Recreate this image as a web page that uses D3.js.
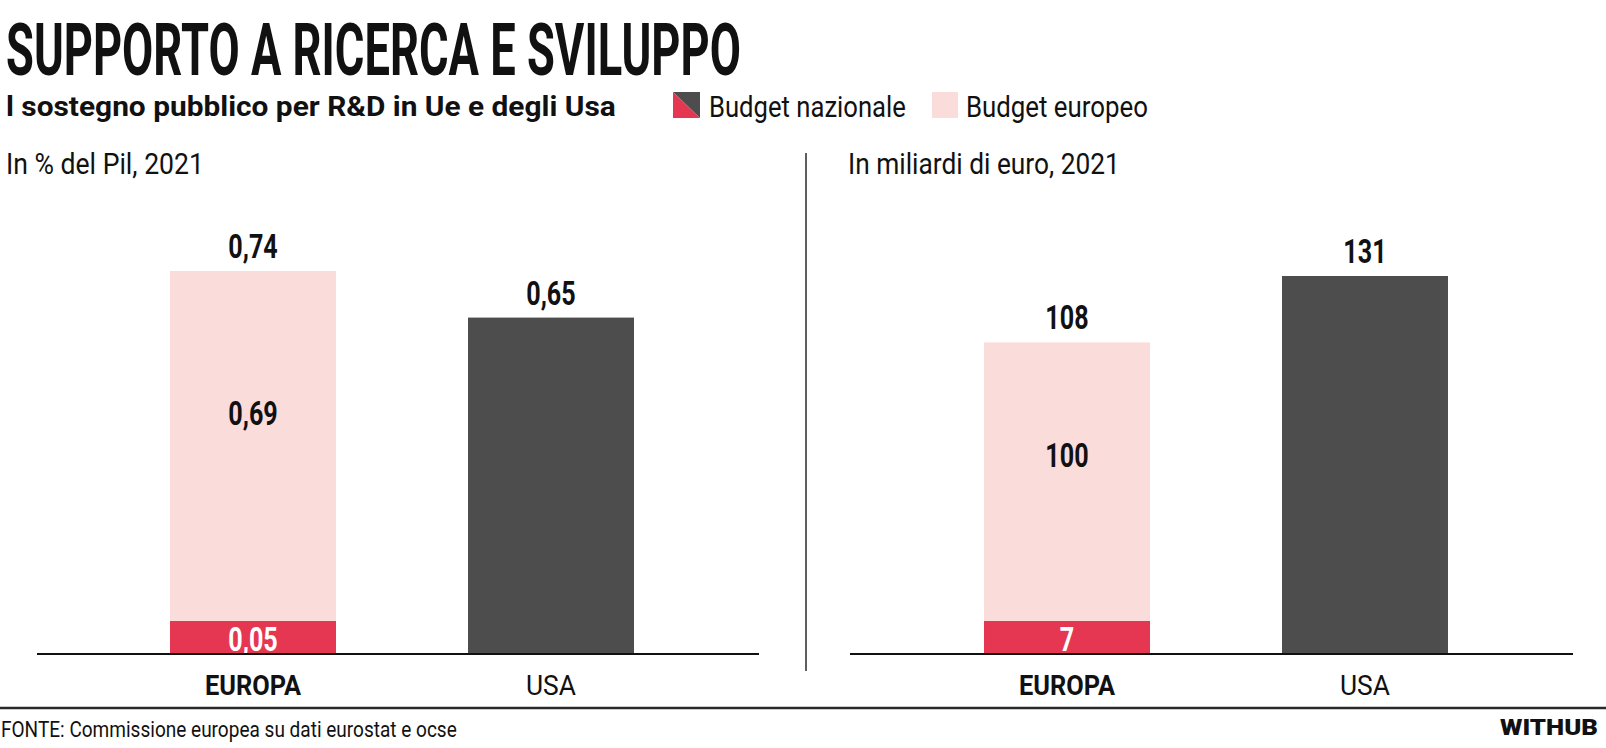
<!DOCTYPE html>
<html>
<head>
<meta charset="utf-8">
<script src="https://cdn.jsdelivr.net/npm/d3@7"></script>
<style>
  html, body { margin: 0; padding: 0; background: #fff; }
  svg { display: block; }
  text { font-family: Roboto, "Noto Sans", sans-serif; }
</style>
</head>
<body>
<svg id="chart" width="1606" height="748"></svg>
<script>
// ---------------- DATA ----------------
const categories = ["EUROPA", "USA"];
// Panel 1: in % del Pil, 2021
const pctNazionale = [0.05, 0.65];
const pctEuropeo   = [0.69, 0];
const pctTotale    = [0.74, 0.65];
// Panel 2: in miliardi di euro, 2021
const eurNazionale = [7, 131];
const eurEuropeo   = [100, 0];
const eurTotale    = [108, 131];

const legendLabels = ["Budget nazionale", "Budget europeo"];
const titleText    = "SUPPORTO A RICERCA E SVILUPPO";
const subtitleText = "l sostegno pubblico per R&D in Ue e degli Usa";
const panelTitles  = ["In % del Pil, 2021", "In miliardi di euro, 2021"];
const sourceText   = "FONTE: Commissione europea su dati eurostat e ocse";
const brandText    = "WITHUB";

// ---------------- STYLE / LAYOUT ----------------
const C = { red: "#E63752", pink: "#FADCDB", dark: "#4E4D4E", ink: "#111111", rule: "#2a2a2a" };
const baseY = 654;
const minSegment = 33;          // room kept for the label inside the small national segment
const svg = d3.select("#chart");

const it = d3.formatLocale({ decimal: ",", thousands: ".", grouping: [3], currency: ["€", ""] });
const fmtPct = it.format(".2f");
const fmtEur = it.format("d");

// horizontally condense text with a transform (keeps real bounding boxes)
function condense(sel, target, isFactor) {
  sel.each(function (d) {
    const node = this;
    const w = node.getComputedTextLength();
    const t = typeof target === "function" ? target(d) : target;
    const f = isFactor ? t : t / w;
    const x = +node.getAttribute("x") || 0;
    const y = +node.getAttribute("y") || 0;
    const keepY = node.hasAttribute("dy");
    d3.select(node).attr("x", 0);
    if (!keepY) d3.select(node).attr("y", 0);
    d3.select(node).attr("transform", `translate(${x},${keepY ? 0 : y}) scale(${f},1)`);
  });
  return sel;
}

// ---------------- HEADER ----------------
condense(svg.append("text").attr("x", 6).attr("y", 75)
  .attr("font-size", 73).attr("font-weight", 700).attr("fill", C.ink).text(titleText), 735);

condense(svg.append("text").attr("x", 6).attr("y", 116)
  .attr("font-size", 28).attr("font-weight", 700).attr("fill", C.ink).text(subtitleText), 610);

// legend
const lg = svg.append("g");
lg.append("path").attr("d", "M673,92 L700,92 L700,118 Z").attr("fill", C.dark);
lg.append("path").attr("d", "M673,92 L673,118 L700,118 Z").attr("fill", C.red);
condense(lg.append("text").attr("x", 709).attr("y", 117).attr("font-size", 30).attr("font-weight", 400)
  .attr("fill", C.ink).text(legendLabels[0]), 197);
lg.append("rect").attr("x", 932).attr("y", 92).attr("width", 26).attr("height", 26).attr("fill", C.pink);
condense(lg.append("text").attr("x", 966).attr("y", 117).attr("font-size", 30).attr("font-weight", 400)
  .attr("fill", C.ink).text(legendLabels[1]), 182);

// divider
svg.append("line").attr("x1", 806).attr("x2", 806).attr("y1", 153).attr("y2", 671)
  .attr("stroke", C.rule).attr("stroke-width", 1.5);

// ---------------- PANELS ----------------
const panels = [
  { title: panelTitles[0], tx: 6, tw: 198, naz: pctNazionale, eu: pctEuropeo, tot: pctTotale, fmt: fmtPct,
    x: d3.scaleBand().domain(categories).range([38, 766]).paddingInner(0.443).paddingOuter(0.443),
    y: d3.scaleLinear().domain([0, 0.74]).range([baseY, 271]), line: [37, 759] },
  { title: panelTitles[1], tx: 848, tw: 272, naz: eurNazionale, eu: eurEuropeo, tot: eurTotale, fmt: fmtEur,
    x: d3.scaleBand().domain(categories).range([852, 1580]).paddingInner(0.443).paddingOuter(0.443),
    y: d3.scaleLinear().domain([0, 131]).range([baseY, 276]), line: [850, 1573] }
];

panels.forEach(p => {
  const g = svg.append("g");
  condense(g.append("text").attr("x", p.tx).attr("y", 174).attr("font-size", 29).attr("font-weight", 400)
    .attr("fill", C.ink).text(p.title), p.tw);

  const rows = categories.map((c, i) => ({ c, i, naz: p.naz[i], eu: p.eu[i], tot: p.tot[i] }));
  // top of the national segment (stacked with a minimum height when it carries a label)
  const nazTop = d => d.eu > 0 ? Math.min(p.y(d.naz), baseY - minSegment) : p.y(d.naz);
  const cx = d => p.x(d.c) + p.x.bandwidth() / 2;

  // european share (pink) up to the total
  g.selectAll("rect.tot").data(rows.filter(d => d.eu > 0)).join("rect").attr("class", "tot")
    .attr("x", d => p.x(d.c)).attr("width", p.x.bandwidth())
    .attr("y", d => p.y(d.tot)).attr("height", d => nazTop(d) - p.y(d.tot))
    .attr("fill", C.pink);

  // national bar
  g.selectAll("rect.naz").data(rows).join("rect").attr("class", "naz")
    .attr("x", d => p.x(d.c)).attr("width", p.x.bandwidth())
    .attr("y", d => nazTop(d)).attr("height", d => baseY - nazTop(d))
    .attr("fill", d => d.eu > 0 ? C.red : C.dark);

  // total labels
  condense(g.selectAll("text.tl").data(rows).join("text").attr("class", "tl")
    .attr("x", cx).attr("y", d => p.y(d.tot) - 13)
    .attr("text-anchor", "middle").attr("font-size", 34).attr("font-weight", 700).attr("fill", C.ink)
    .text(d => p.fmt(d.tot)), 0.74, true);

  // european share labels
  condense(g.selectAll("text.el").data(rows.filter(d => d.eu > 0)).join("text").attr("class", "el")
    .attr("x", cx)
    .attr("y", d => { const t = p.y(d.tot), b = nazTop(d); return t + 0.405 * (b - t) + 12; })
    .attr("text-anchor", "middle").attr("font-size", 34).attr("font-weight", 700).attr("fill", C.ink)
    .text(d => p.fmt(d.eu)), 0.74, true);

  // national labels inside the red segment
  condense(g.selectAll("text.nl").data(rows.filter(d => d.eu > 0)).join("text").attr("class", "nl")
    .attr("x", cx).attr("y", baseY - 3)
    .attr("text-anchor", "middle").attr("font-size", 34).attr("font-weight", 700).attr("fill", "#fff")
    .text(d => p.fmt(d.naz)), 0.74, true);

  // baseline
  g.append("line").attr("x1", p.line[0]).attr("x2", p.line[1]).attr("y1", baseY).attr("y2", baseY)
    .attr("stroke", C.ink).attr("stroke-width", 2.2);

  // category axis
  const ax = g.append("g").attr("transform", `translate(0,${baseY})`)
    .call(d3.axisBottom(p.x).tickSize(0).tickPadding(21));
  ax.select(".domain").remove();
  const tt = ax.selectAll("text").attr("font-family", "Roboto, sans-serif").attr("font-size", 28)
    .attr("fill", C.ink)
    .attr("font-weight", d => d === "EUROPA" ? 700 : 400);
  condense(tt, d => d === "EUROPA" ? 96 : 50);
});

// ---------------- FOOTER ----------------
svg.append("line").attr("x1", 0).attr("x2", 1606).attr("y1", 708).attr("y2", 708)
  .attr("stroke", C.rule).attr("stroke-width", 2.5);
condense(svg.append("text").attr("x", 1).attr("y", 737).attr("font-size", 22.5).attr("font-weight", 400)
  .attr("fill", C.ink).text(sourceText), 456);
condense(svg.append("text").attr("x", 1598).attr("y", 735).attr("text-anchor", "end")
  .attr("font-size", 22.5).attr("font-weight", 900).attr("fill", C.ink).text(brandText), 98);
</script>
</body>
</html>
